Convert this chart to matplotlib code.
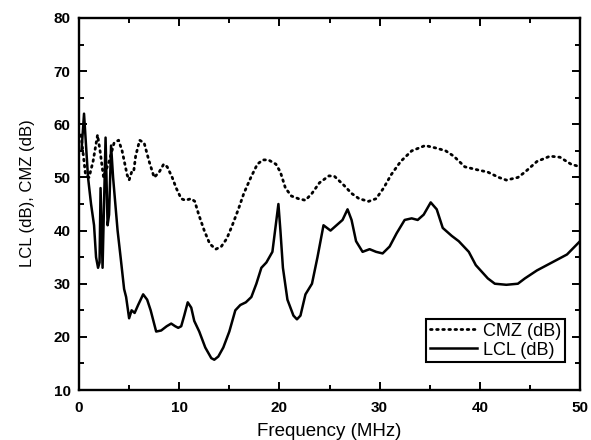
import matplotlib
matplotlib.use("Agg")
import matplotlib.pyplot as plt
from matplotlib.ticker import MultipleLocator

# LCL (solid)
lcl_freq = [0.25, 0.5, 0.9, 1.2, 1.5, 1.7, 1.9, 2.05, 2.15, 2.35, 2.65, 2.85, 3.0, 3.2, 3.4,
            3.85, 4.15, 4.5, 4.7, 5.0, 5.25, 5.55, 5.9, 6.4, 6.8, 7.15, 7.7, 8.2, 8.75, 9.2,
            9.6, 9.9, 10.2, 10.5, 10.85, 11.2, 11.5, 12.0, 12.6, 13.2, 13.5, 13.9, 14.4, 15.0,
            15.6, 16.1, 16.65, 17.2, 17.7, 18.2, 18.7, 19.3, 19.9, 20.1, 20.35, 20.8, 21.4,
            21.75, 22.1, 22.6, 23.25, 23.8, 24.4, 25.1, 25.7, 26.3, 26.8, 27.2, 27.65, 28.3,
            29.0, 29.65, 30.3, 31.0, 31.7, 32.5, 33.2, 33.8, 34.4, 35.1, 35.7, 36.3, 37.2,
            37.9, 38.9, 39.6, 40.8, 41.5, 42.65, 43.8, 44.5, 45.7, 47.2, 48.7, 50]
lcl_db = [55, 62, 50, 45, 41, 35, 33, 34, 48, 33, 57.5, 41, 43, 56, 50,
          40, 35, 29, 27.5, 23.5, 25, 24.5, 26, 28, 27, 25, 21, 21.2, 22, 22.5,
          22, 21.7, 22, 24, 26.5, 25.5, 23, 21, 18, 16, 15.7, 16.3, 18, 21,
          25, 26, 26.5, 27.5, 30, 33, 34, 36, 45, 40, 33, 27, 24,
          23.3, 24, 28, 30, 35, 41, 40, 41, 42, 44, 42, 38, 36,
          36.5, 36, 35.7, 37, 39.5, 42, 42.3, 42, 43, 45.3, 44, 40.5, 39,
          38, 36, 33.5, 31, 30, 29.8, 30, 31, 32.5, 34, 35.5, 38]

# CMZ (dotted)
cmz_freq = [0.2, 0.65, 1.0, 1.4, 1.85, 2.1, 2.45, 3.0, 3.5, 3.95, 4.3, 4.8, 5.0, 5.25, 5.45,
            5.65, 6.05, 6.5, 7.0, 7.5, 8.0, 8.45, 8.8, 9.3, 9.7, 10.2, 10.6, 11.2, 11.55,
            11.95, 12.5, 13.05, 13.65, 14.2, 14.75, 15.3, 15.9, 16.45, 17.15, 17.8, 18.35,
            18.9, 19.65, 20.1, 20.6, 21.2, 21.9, 22.6, 23.25, 24.0, 24.95, 25.5, 26.45, 27.2,
            27.95, 28.9, 29.65, 30.4, 31.15, 32.1, 33.2, 34.55, 35.7, 36.6, 37.4, 38.5, 39.6,
            40.8, 41.9, 42.65, 43.8, 44.5, 45.7, 47.0, 48.0, 49.1, 50]
cmz_db = [58, 50.5, 50, 53, 58, 55, 50, 53, 56.5, 57, 55, 50.5, 49.5, 51, 51,
          54, 57, 56.5, 53, 50, 51, 52.5, 52, 50, 48, 46, 45.7, 46, 45.5,
          43, 40, 37.5, 36.5, 37, 38.5, 41, 44, 47, 50, 52.5, 53.3,
          53.3, 52.5, 51, 48, 46.5, 46, 45.7, 47, 49, 50.3, 50.2, 48.5, 47,
          46, 45.5, 46, 48, 50.5, 53, 55, 56, 55.5, 55, 54, 52, 51.5,
          51, 50, 49.5, 50, 51, 53, 54, 53.8, 52.5, 52]

plt.rcParams["font.family"] = ["Liberation Sans", "DejaVu Sans"]

fig = plt.figure(figsize=(5.91, 4.40), dpi=100)
ax = fig.add_axes([0.1337, 0.1136, 0.8477, 0.8455])

ax.plot(cmz_freq, cmz_db, color="black", linewidth=2.0,
        linestyle=(0, (0.6, 1.6)), dash_capstyle="round", label="CMZ (dB)")
ax.plot(lcl_freq, lcl_db, color="black", linewidth=1.8, label="LCL (dB)")

ax.set_xlim(0, 50)
ax.set_ylim(10, 80)
ax.xaxis.set_major_locator(MultipleLocator(10))
ax.xaxis.set_minor_locator(MultipleLocator(5))
ax.yaxis.set_major_locator(MultipleLocator(10))
ax.yaxis.set_minor_locator(MultipleLocator(5))

ax.tick_params(which="both", direction="in", top=True, right=True, width=1.4)
ax.tick_params(which="major", length=6, labelsize=11)
ax.tick_params(axis="x", which="major", pad=8)
ax.tick_params(axis="y", which="major", pad=6)
ax.tick_params(which="minor", length=3.5)
for lbl in ax.get_xticklabels() + ax.get_yticklabels():
    lbl.set_fontweight("bold")

for spine in ax.spines.values():
    spine.set_linewidth(1.7)

ax.set_xlabel("Frequency (MHz)", fontsize=13.5, labelpad=6)
ax.set_ylabel("LCL (dB), CMZ (dB)", fontsize=12)
ax.yaxis.set_label_coords(-0.088, 0.53)

leg = ax.legend(loc="lower right", bbox_to_anchor=(0.970, 0.075), borderaxespad=0,
                fontsize=13, fancybox=False, edgecolor="black", framealpha=1,
                handlelength=2.6, handletextpad=0.35, borderpad=0.2, labelspacing=0.1)
leg.get_frame().set_linewidth(1.5)

fig.savefig("out.png", dpi=100)
